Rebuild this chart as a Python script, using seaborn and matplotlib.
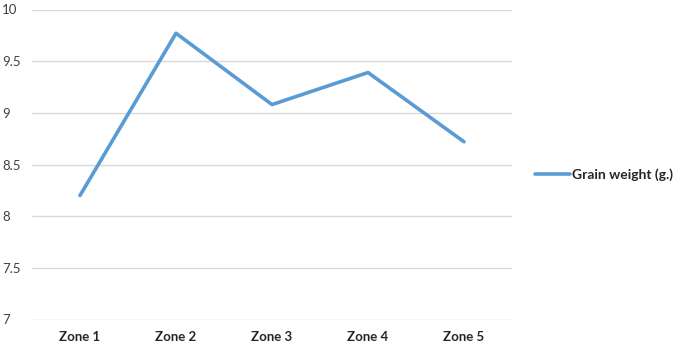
import matplotlib
matplotlib.use("Agg")
import matplotlib.pyplot as plt
import seaborn as sns
import pandas as pd

zones = ["Zone 1", "Zone 2", "Zone 3", "Zone 4", "Zone 5"]
grain_weight = [8.2, 9.77, 9.08, 9.39, 8.72]
yticks = [7, 7.5, 8, 8.5, 9, 9.5, 10]
ytick_labels = ["7", "7.5", "8", "8.5", "9", "9.5", "10"]
series_name = "Grain weight (g.)"

sns.set_theme(style="white")
plt.rcParams['font.family'] = ['Lato', 'DejaVu Sans']

df = pd.DataFrame({"zone": zones, "value": grain_weight, "series": series_name})

fig = plt.figure(figsize=(6.79, 3.44), dpi=100)
W, H = 679, 344
ax = fig.add_axes([32 / W, 1 - 319.5 / H, 480 / W, 310 / H])

sns.lineplot(data=df, x="zone", y="value", hue="series", palette=["#5B9BD5"],
             linewidth=2.6, ax=ax, sort=False, solid_capstyle="round")

ax.set_xlim(-0.5, 4.5)
ax.set_ylim(7, 10)
ax.set_yticks(yticks)
ax.set_yticklabels(ytick_labels, ha="left", fontsize=9.5, color="#404040")
ax.tick_params(axis="y", pad=21.5, length=0)
ax.tick_params(axis="x", pad=8, length=0)
for lbl in ax.get_xticklabels():
    lbl.set_fontweight("bold")
    lbl.set_fontsize(9.5)
    lbl.set_color("#262626")
ax.set_xlabel("")
ax.set_ylabel("")
ax.grid(axis="y", color="#D9D9D9", linewidth=1)
ax.grid(axis="x", visible=False)
for s in ax.spines.values():
    s.set_visible(False)

leg = ax.legend(loc="center left", bbox_to_anchor=((535 - 32) / 480, (319.5 - 175) / 310),
                frameon=False, handlelength=2.5, handletextpad=0.15,
                borderaxespad=0, borderpad=0,
                prop={"weight": "bold", "size": 10})
for t in leg.get_texts():
    t.set_color("#262626")

fig.savefig("out.png", dpi=100)
